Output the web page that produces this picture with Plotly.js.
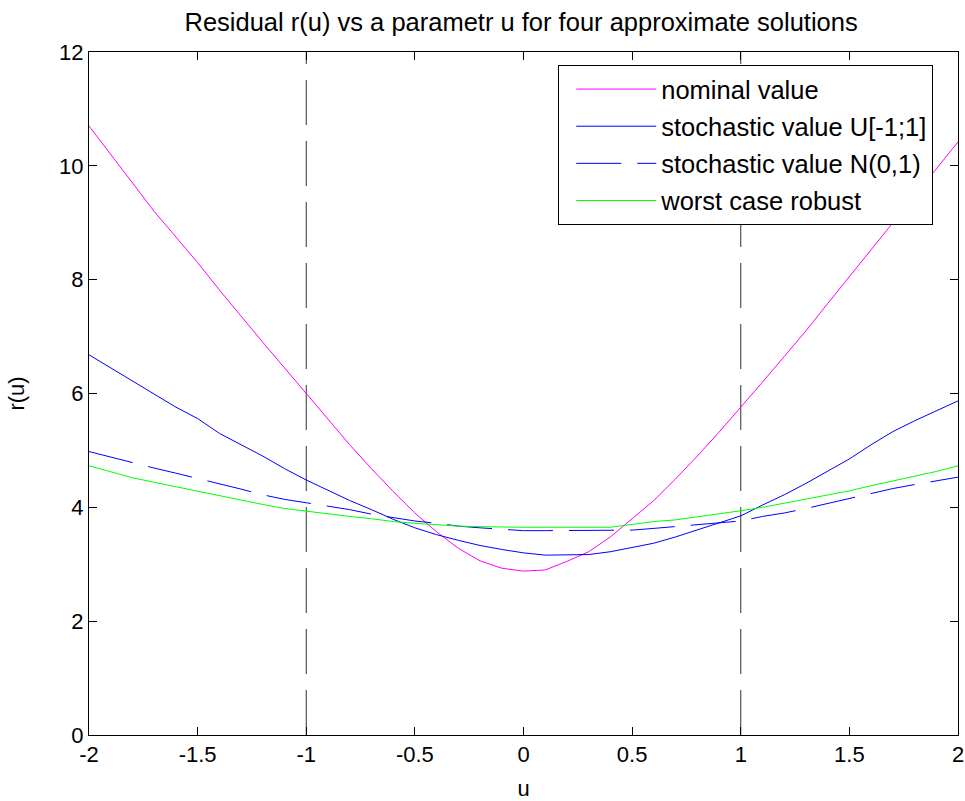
<!DOCTYPE html>
<html>
<head>
<meta charset="utf-8">
<script src="https://cdn.plot.ly/plotly-3.0.1.min.js"></script>
<style>html,body{margin:0;padding:0;background:#fff;}#chart{width:965px;height:801px;}</style>
</head>
<body>
<div id="chart"></div>
<script>
const u = [-2,-1.9,-1.8,-1.7,-1.6,-1.5,-1.4,-1.3,-1.2,-1.1,-1.0,-0.9,-0.8,-0.7,-0.6,-0.5,-0.4,-0.3,-0.2,-0.1,0,
           0.1,0.2,0.3,0.4,0.5,0.6,0.7,0.8,0.9,1.0,1.1,1.2,1.3,1.4,1.5,1.6,1.7,1.8,1.9,2.0];
const nominal = [10.7,10.2,9.7,9.2,8.75,8.3,7.82,7.35,6.9,6.45,6.0,5.55,5.1,4.68,4.28,3.9,3.57,3.28,3.06,2.93,2.88,
                 2.9,3.05,3.22,3.48,3.8,4.12,4.5,4.9,5.32,5.75,6.2,6.65,7.1,7.58,8.05,8.52,9.0,9.48,9.95,10.42];
const stochU = [6.68,6.45,6.22,5.98,5.76,5.56,5.3,5.1,4.9,4.68,4.48,4.3,4.12,3.96,3.79,3.64,3.52,3.42,3.33,3.26,3.2,
                3.16,3.16,3.17,3.22,3.29,3.37,3.48,3.6,3.72,3.85,4.04,4.22,4.42,4.63,4.85,5.1,5.33,5.52,5.7,5.87];
const stochN = [4.98,4.88,4.78,4.69,4.6,4.51,4.42,4.32,4.22,4.14,4.08,4.02,3.96,3.88,3.82,3.76,3.72,3.67,3.64,3.61,3.59,
                3.59,3.59,3.59,3.59,3.6,3.63,3.66,3.7,3.73,3.76,3.84,3.9,3.98,4.07,4.16,4.25,4.33,4.4,4.47,4.53];
const robust = [4.73,4.62,4.52,4.44,4.36,4.28,4.2,4.12,4.05,3.98,3.93,3.88,3.84,3.8,3.75,3.72,3.69,3.67,3.66,3.65,3.65,
                3.65,3.65,3.65,3.65,3.7,3.75,3.78,3.83,3.88,3.94,4.0,4.07,4.15,4.22,4.29,4.38,4.46,4.54,4.63,4.73];
const names = ["nominal value","stochastic value U[-1;1]","stochastic value N(0,1)","worst case robust"];
const boundX = [-1, 1];
const boundY = [0, 12];
const xTicks = [-2,-1.5,-1,-0.5,0,0.5,1,1.5,2];
const xTickText = ["-2","-1.5","-1","-0.5","0","0.5","1","1.5","2"];
const yTicks = [0,2,4,6,8,10,12];

const dashPat = "45px,16px";
const traces = [];
boundX.forEach(function(bx, i){
  traces.push({x:[bx,bx], y:boundY, showlegend:false, hoverinfo:"skip", legendgroup:"z"+i,
               line:{color:"#333333", width:1, dash:dashPat}});
});
traces.push(
  {x:u, y:nominal, name:names[0], legendgroup:"a", line:{color:"#ff00ff", width:1}},
  {x:u, y:stochU, name:names[1], legendgroup:"b", line:{color:"#0000ff", width:1}},
  {x:u, y:stochN, name:names[2], legendgroup:"c", line:{color:"#0000ff", width:1, dash:dashPat}},
  {x:u, y:robust, name:names[3], legendgroup:"d", line:{color:"#00ff00", width:1}}
);
traces.forEach(function(t){ t.type="scatter"; t.mode="lines"; });

const font = "Liberation Sans, Arial, sans-serif";
const layout = {
  width:965, height:801,
  margin:{l:89, r:7, t:52, b:66},
  paper_bgcolor:"#ffffff", plot_bgcolor:"#ffffff",
  font:{family:font, color:"#000", size:22},
  title:{text:"Residual r(u) vs a parametr u for four approximate solutions",
         font:{family:font, size:25.5, color:"#000"}, x:0.54, xanchor:"center", y:0.973, yanchor:"middle"},
  xaxis:{range:[-2,2], tickvals:xTicks, ticktext:xTickText, ticks:"inside", ticklen:8, tickcolor:"#000",
         showline:true, linecolor:"#000", linewidth:1, mirror:"ticks", showgrid:false, zeroline:false,
         tickfont:{size:22}, title:{text:"u", font:{size:22}, standoff:16}},
  yaxis:{range:[0,12], tickvals:yTicks, ticks:"inside", ticklen:8, tickcolor:"#000",
         showline:true, linecolor:"#000", linewidth:1, mirror:"ticks", showgrid:false, zeroline:false,
         tickfont:{size:22}, title:{text:"r(u)", font:{size:22}, standoff:28}},
  showlegend:true,
  legend:{x:0.54, y:0.981, xanchor:"left", yanchor:"top", bgcolor:"#fff", bordercolor:"#000", borderwidth:1,
          font:{size:25.5}, traceorder:"grouped", tracegroupgap:1, itemwidth:80, indentation:12}
};
Plotly.newPlot("chart", traces, layout, {displayModeBar:false, staticPlot:true});
</script>
</body>
</html>
